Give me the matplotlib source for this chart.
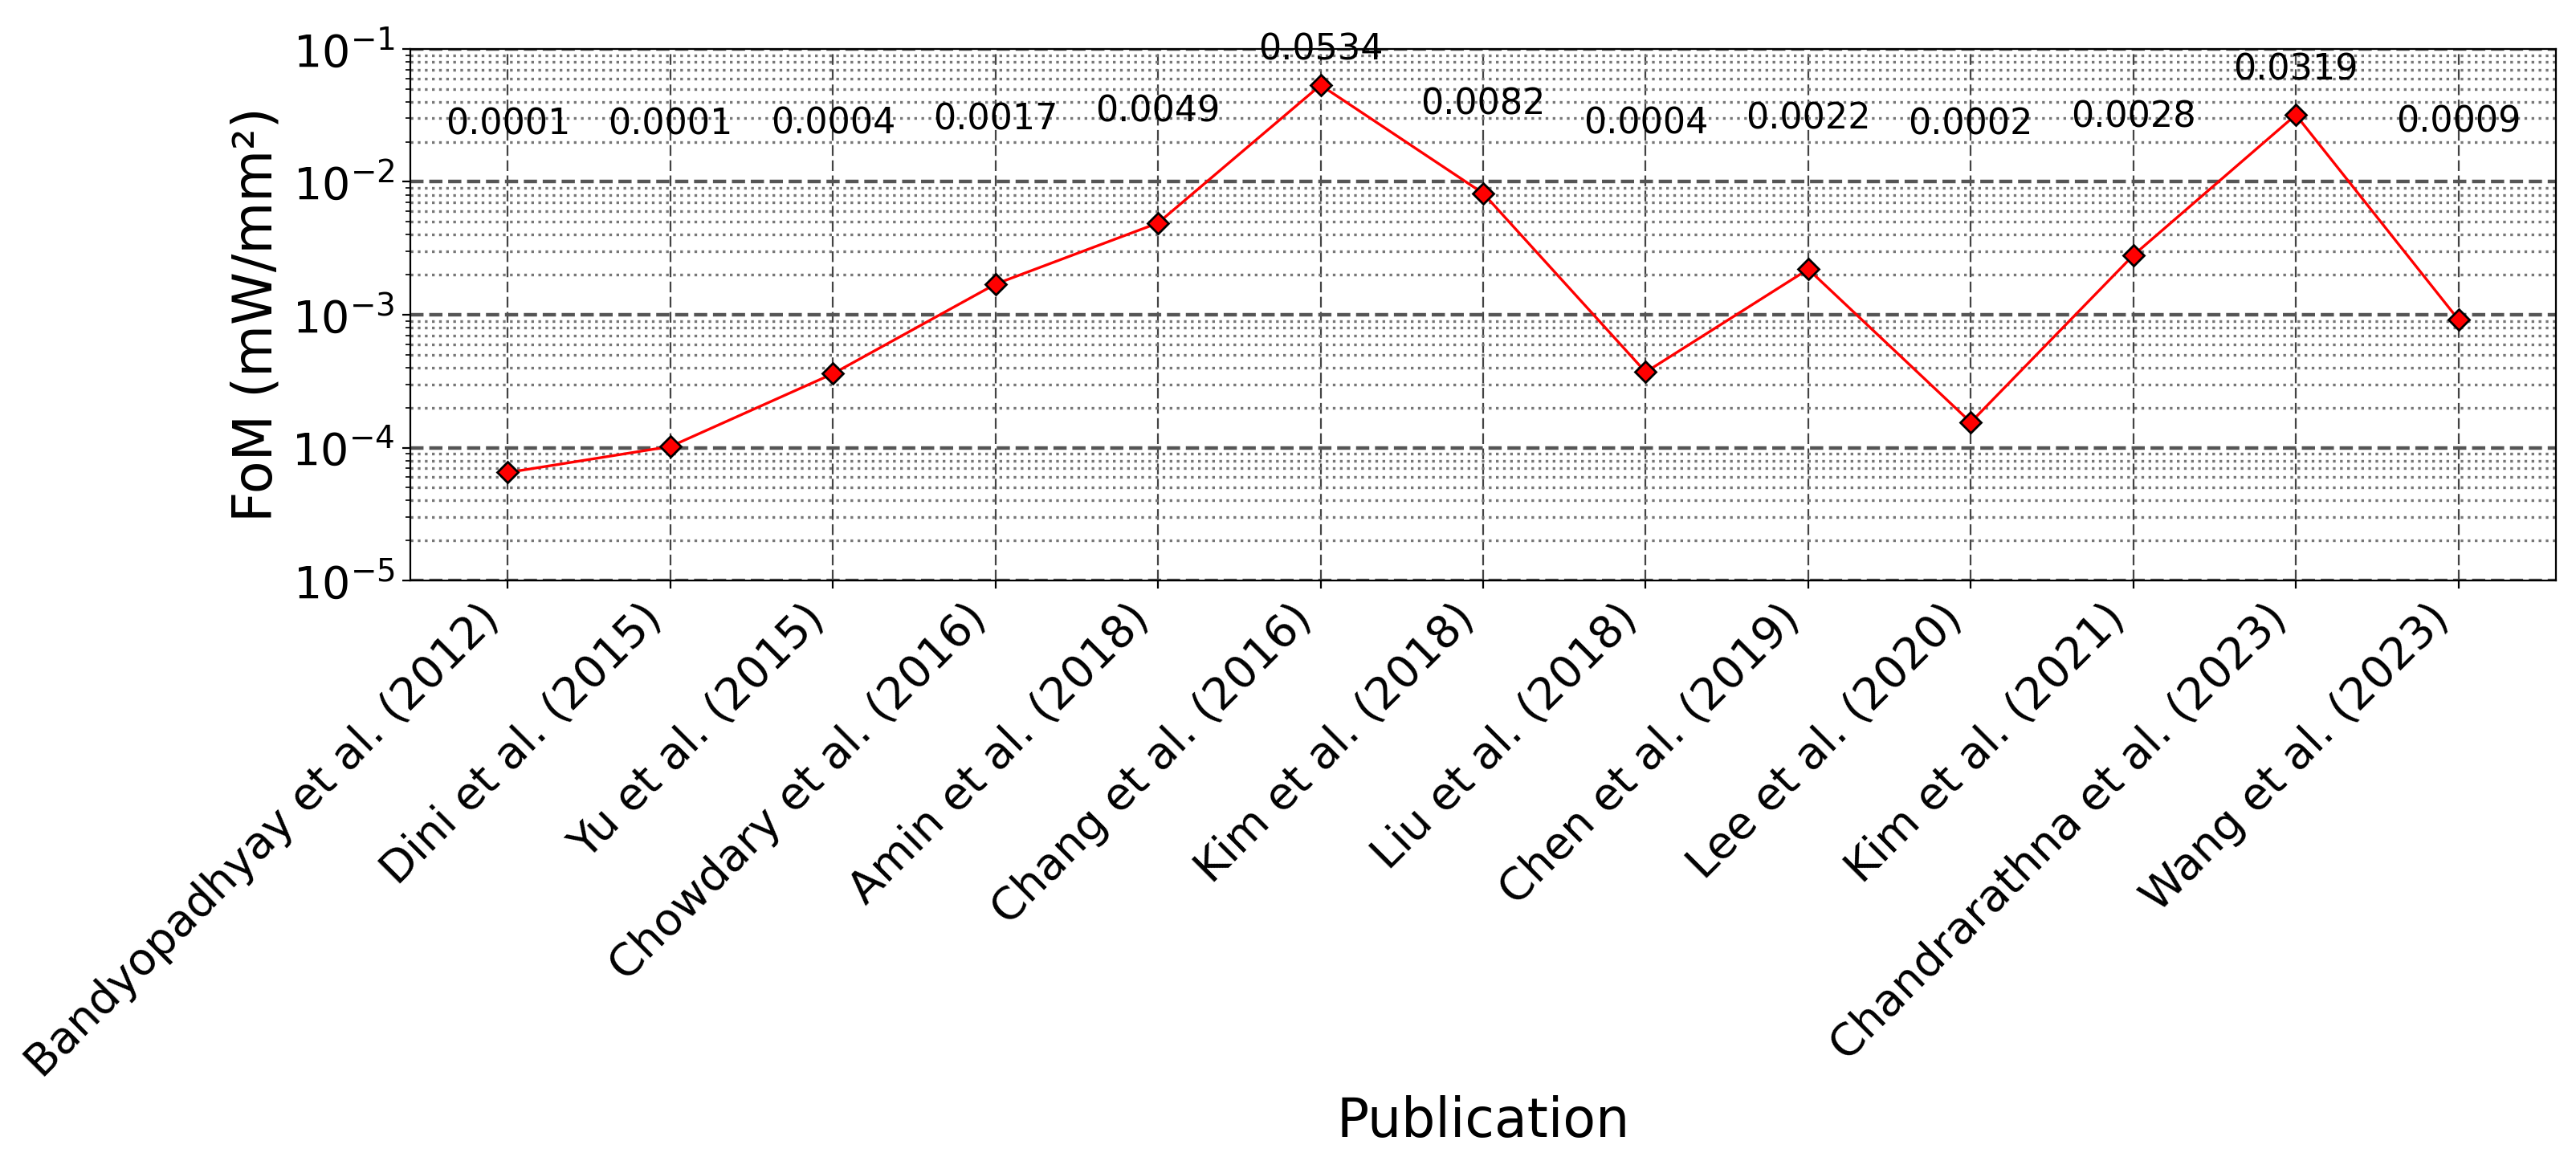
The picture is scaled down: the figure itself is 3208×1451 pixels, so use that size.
import matplotlib
matplotlib.use("Agg")
import matplotlib.pyplot as plt
import numpy as np

# publications and figure of merit values (mW/mm^2)
publications = ["Bandyopadhyay et al. (2012)", "Dini et al. (2015)", "Yu et al. (2015)",
                "Chowdary et al. (2016)", "Amin et al. (2018)", "Chang et al. (2016)",
                "Kim et al. (2018)", "Liu et al. (2018)", "Chen et al. (2019)",
                "Lee et al. (2020)", "Kim et al. (2021)", "Chandrarathna et al. (2023)",
                "Wang et al. (2023)"]
fom = [0.000065, 0.000102, 0.00036, 0.0017, 0.0049, 0.0534, 0.0082,
       0.00037, 0.0022, 0.000155, 0.0028, 0.0319, 0.00092]

fig = plt.figure(figsize=(16.04, 7.255), dpi=200)
ax = fig.add_axes([0.1593, 0.5017, 0.8329, 0.4563])

x = np.arange(len(publications))
ax.plot(x, fom, color='red', lw=1.2, marker='D', ms=6.5,
        markerfacecolor='red', markeredgecolor='black', markeredgewidth=1.0, zorder=3)

for i, v in enumerate(fom):
    ax.text(i, v + 0.02, f'{v:.4f}', ha='center', va='bottom', fontsize=16)

ax.set_yscale('log')
ax.set_ylim(1e-5, 1e-1)
ax.set_xlim(-0.6, len(publications) - 0.4)

ax.set_xticks(x)
ax.set_xticklabels(publications, rotation=45, ha='right', fontsize=20)
ax.tick_params(axis='y', labelsize=20)

ax.xaxis.grid(True, which='major', color='#222222', lw=0.8, dashes=(6, 2.5), alpha=0.85)
ax.yaxis.grid(True, which='major', color='#555555', lw=1.6, linestyle='--')
ax.yaxis.grid(True, which='minor', color='#777777', lw=1.2, linestyle=':')
ax.set_axisbelow(True)

ax.set_xlabel('Publication', fontsize=24)
ax.set_ylabel('FoM (mW/mm²)', fontsize=24)

fig.savefig('out.png', dpi=200)
